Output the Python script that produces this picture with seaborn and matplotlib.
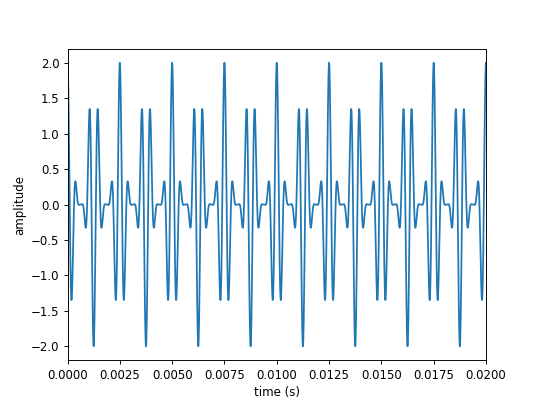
import numpy as np
import pandas as pd
import matplotlib
matplotlib.use("Agg")
import matplotlib.pyplot as plt
import seaborn as sns

# Tone components of the plotted signal
freqs_hz = [1200, 2000, 2800, 3600]
amplitudes = [0.25, 0.75, 0.75, 0.25]
duration_s = 0.02
sample_rate = 100000

t = np.arange(0, int(duration_s * sample_rate) + 1) / sample_rate
signal = np.zeros_like(t)
for f, a in zip(freqs_hz, amplitudes):
    signal += a * np.cos(2 * np.pi * f * t)

df = pd.DataFrame({"time (s)": t, "amplitude": signal})

fig, ax = plt.subplots(figsize=(6.4, 4.8), dpi=84.375)
sns.lineplot(data=df, x="time (s)", y="amplitude", ax=ax, estimator=None,
             color="#1f77b4", linewidth=1.5)
ax.set_xlim(0, duration_s)
ax.set_xticks(np.arange(0, 0.0201, 0.0025))
ax.set_xticklabels([f"{v:.4f}" for v in np.arange(0, 0.0201, 0.0025)])
ax.set_xlabel("time (s)")
ax.set_ylabel("amplitude")
fig.savefig("out.png", dpi=84.375)
